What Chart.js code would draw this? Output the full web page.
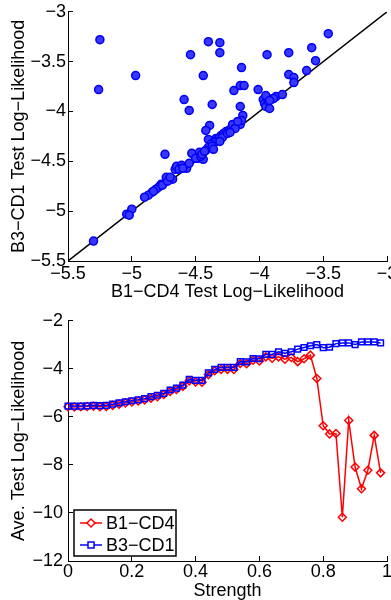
<!DOCTYPE html>
<html>
<head>
<meta charset="utf-8">
<script src="https://cdn.jsdelivr.net/npm/chart.js@4.4.0/dist/chart.umd.min.js"></script>
<style>
    body { margin: 0; width: 391px; height: 600px; overflow: hidden; background: #fff; position: relative; }
    canvas { position: absolute; left: 0; }
    #scatter-chart { top: -6px; }
    #strength-chart { top: 300px; }
</style>
</head>
<body>
<canvas id="scatter-chart" width="420" height="311"></canvas>
<canvas id="strength-chart" width="420" height="302"></canvas>
<script>
// Haut : log-vraisemblance B1-CD4 (x) contre B3-CD1 (y)
const scatterX = [
    -5.25, -5.26, -4.97, -4.54, -4.40, -4.31, -4.31, -4.44, -4.14, -3.94,
    -3.77, -3.59, -3.46, -3.56, -3.63, -3.77, -3.73, -3.73, -4.01, -4.20,
    -4.15, -4.12, -4.59, -4.55, -4.37, -4.15, -4.13, -3.87, -3.82, -3.97,
    -3.96, -3.95, -3.94, -3.93, -3.92, -3.91, -3.95, -3.89, -3.92, -4.39,
    -4.42, -4.40, -4.34, -4.30, -4.28, -4.26, -4.24, -4.22, -4.20, -4.18,
    -4.16, -4.15, -4.14, -4.32, -4.34, -4.36, -4.38, -4.40, -4.42, -4.29,
    -4.25, -4.21, -4.19, -4.17, -4.23, -4.74, -4.53, -4.47, -4.48, -4.44,
    -4.37, -4.36, -4.31, -4.66, -4.65, -4.61, -4.57, -4.68, -4.73, -4.77,
    -4.79, -4.81, -4.84, -4.87, -4.90, -5.00, -5.04, -5.02, -5.30, -4.83,
    -4.76, -4.72, -4.70, -4.63, -4.60, -4.55, -4.50, -4.46, -4.45, -4.43
];
const scatterY = [
    -3.28, -3.78, -3.64, -3.43, -3.30, -3.31, -3.41, -3.64, -3.56, -3.43,
    -3.41, -3.36, -3.22, -3.49, -3.59, -3.63, -3.66, -3.71, -3.78, -3.79,
    -3.74, -3.74, -3.88, -3.99, -3.93, -3.95, -4.04, -3.85, -3.83, -3.88,
    -3.92, -3.95, -3.86, -3.90, -3.97, -3.88, -3.84, -3.87, -3.89, -4.14,
    -4.19, -4.28, -4.27, -4.24, -4.22, -4.20, -4.19, -4.17, -4.15, -4.13,
    -4.12, -4.13, -4.09, -4.27, -4.30, -4.31, -4.33, -4.36, -4.39, -4.26,
    -4.22, -4.13, -4.17, -4.10, -4.21, -4.43, -4.42, -4.41, -4.47, -4.48,
    -4.35, -4.38, -4.30, -4.58, -4.55, -4.54, -4.57, -4.68, -4.66, -4.73,
    -4.76, -4.78, -4.81, -4.84, -4.86, -4.98, -5.03, -5.04, -5.30, -4.80,
    -4.74, -4.70, -4.66, -4.58, -4.57, -4.52, -4.47, -4.45, -4.43, -4.40
];
const diagonalX = [-5.5, -3];
const diagonalY = [-5.5, -3];
const scatterXTicks = [-5.5, -5, -4.5, -4, -3.5, -3];
const scatterYTicks = [-5.5, -5, -4.5, -4, -3.5, -3];

// Bas : moyenne de la log-vraisemblance selon la force
const strength = [
    0, 0.02, 0.04, 0.06, 0.08, 0.10, 0.12, 0.14, 0.16, 0.18,
    0.20, 0.22, 0.24, 0.26, 0.28, 0.30, 0.32, 0.34, 0.36, 0.38,
    0.40, 0.42, 0.44, 0.46, 0.48, 0.50, 0.52, 0.54, 0.56, 0.58,
    0.60, 0.62, 0.64, 0.66, 0.68, 0.70, 0.72, 0.74, 0.76, 0.78,
    0.80, 0.82, 0.84, 0.86, 0.88, 0.90, 0.92, 0.94, 0.96, 0.98
];
const b1cd4 = [
    -5.58, -5.59, -5.58, -5.57, -5.56, -5.58, -5.57, -5.52, -5.47, -5.42,
    -5.38, -5.34, -5.29, -5.22, -5.16, -5.07, -4.94, -4.86, -4.73, -4.50,
    -4.55, -4.56, -4.24, -4.08, -4.02, -4.02, -4.03, -3.78, -3.79, -3.64,
    -3.67, -3.50, -3.56, -3.50, -3.60, -3.53, -3.70, -3.58, -3.43, -4.40,
    -6.37, -6.71, -6.69, -10.18, -6.15, -8.09, -8.99, -8.22, -6.77, -8.33
];
const b3cd1 = [
    -5.55, -5.55, -5.55, -5.54, -5.52, -5.53, -5.52, -5.47, -5.42, -5.37,
    -5.33, -5.29, -5.24, -5.16, -5.10, -5.02, -4.88, -4.80, -4.68, -4.44,
    -4.48, -4.48, -4.17, -4.02, -3.94, -3.94, -3.94, -3.70, -3.71, -3.57,
    -3.58, -3.40, -3.40, -3.29, -3.35, -3.29, -3.18, -3.11, -3.04, -2.99,
    -3.12, -3.10, -2.95, -2.92, -2.92, -2.99, -2.88, -2.88, -2.88, -2.92
];
const strengthTicks = [0, 0.2, 0.4, 0.6, 0.8, 1];
const likelihoodTicks = [-12, -10, -8, -6, -4, -2];

const FONT = "'Liberation Sans', Arial, Helvetica, sans-serif";
Chart.defaults.font.family = FONT;
Chart.defaults.font.size = 18;
Chart.defaults.color = "#000";

function formatTick(value) {
    return String(value).replace("-", "\u2212");
}

// Axe façon MATLAB : trait noir, graduations vers l'intérieur
function makeAxis(min, max, tickValues, title, size, tickPadding, titlePadding, horizontal) {
    return {
        type: "linear",
        min: min,
        max: max,
        afterBuildTicks: (axis) => {
            axis.ticks = tickValues.map((v) => ({ value: v }));
        },
        afterFit: (axis) => {
            if (horizontal) {
                axis.height = size;
            } else {
                axis.width = size;
            }
        },
        ticks: {
            autoSkip: false,
            maxRotation: 0,
            padding: tickPadding,
            callback: formatTick,
        },
        grid: {
            drawOnChartArea: false,
            drawTicks: true,
            tickLength: -5,
            color: "#000",
            lineWidth: 1,
        },
        border: { display: true, color: "#000", width: 1 },
        title: {
            display: true,
            text: title,
            padding: horizontal ? { top: 0, bottom: titlePadding } : { top: titlePadding, bottom: 0 },
        },
    };
}

const legendBox = {
    id: "legendBox",
    afterDraw(chart) {
        const ctx = chart.ctx;
        const area = chart.chartArea;
        const x0 = area.left + 6;
        const y0 = area.bottom - 51;
        ctx.save();
        ctx.fillStyle = "#fff";
        ctx.fillRect(x0, y0, 102, 46);
        ctx.strokeStyle = "#000";
        ctx.lineWidth = 1.5;
        ctx.strokeRect(x0, y0, 102, 46);

        const rows = [
            { color: "#ff0000", style: "diamond", dy: 13 },
            { color: "#0000ff", style: "square", dy: 35 },
        ];
        rows.forEach((row, i) => {
            const y = y0 + row.dy;
            ctx.strokeStyle = row.color;
            ctx.lineWidth = 1.5;
            ctx.beginPath();
            ctx.moveTo(x0 + 6, y);
            ctx.lineTo(x0 + 28, y);
            ctx.stroke();
            ctx.beginPath();
            if (row.style === "diamond") {
                ctx.moveTo(x0 + 17, y - 4);
                ctx.lineTo(x0 + 21, y);
                ctx.lineTo(x0 + 17, y + 4);
                ctx.lineTo(x0 + 13, y);
                ctx.closePath();
            } else {
                ctx.rect(x0 + 14, y - 3, 6, 6);
            }
            ctx.fillStyle = "#fff";
            ctx.fill();
            ctx.stroke();
            ctx.fillStyle = "#000";
            ctx.font = "18px " + FONT;
            ctx.textBaseline = "middle";
            ctx.fillText(chart.data.datasets[i].label, x0 + 32, y + 1);
        });
        ctx.restore();
    },
};

new Chart(document.getElementById("scatter-chart"), {
    type: "scatter",
    data: {
        datasets: [
            {
                label: "points",
                data: scatterX.map((x, i) => ({ x: x, y: scatterY[i] })),
                pointStyle: "circle",
                pointRadius: 4,
                backgroundColor: "rgb(55, 55, 255)",
                borderColor: "rgb(0, 0, 245)",
                borderWidth: 1.5,
                clip: false,
            },
            {
                label: "y = x",
                data: diagonalX.map((x, i) => ({ x: x, y: diagonalY[i] })),
                showLine: true,
                pointRadius: 0,
                borderColor: "#000",
                borderWidth: 1.5,
            },
        ],
    },
    options: {
        responsive: false,
        animation: false,
        layout: { padding: { top: 15, right: 33, left: 0, bottom: 0 } },
        plugins: { legend: { display: false }, tooltip: { enabled: false } },
        scales: {
            x: makeAxis(-5.5, -3, scatterXTicks, "B1\u2212CD4 Test Log\u2212Likelihood", 44, 7, 2, true),
            y: makeAxis(-5.5, -3, scatterYTicks, "B3\u2212CD1 Test Log\u2212Likelihood", 68, 7, 8, false),
        },
    },
});

new Chart(document.getElementById("strength-chart"), {
    type: "scatter",
    data: {
        datasets: [
            {
                label: "B1\u2212CD4",
                data: strength.map((s, i) => ({ x: s, y: b1cd4[i] })),
                showLine: true,
                borderColor: "#ff0000",
                borderWidth: 1.5,
                pointStyle: "rectRot",
                pointRadius: 4,
                pointBorderColor: "#ff0000",
                pointBackgroundColor: "rgba(255, 255, 255, 0)",
                pointBorderWidth: 1.5,
                order: 1,
                clip: false,
            },
            {
                label: "B3\u2212CD1",
                data: strength.map((s, i) => ({ x: s, y: b3cd1[i] })),
                showLine: true,
                borderColor: "#0000ff",
                borderWidth: 1.5,
                pointStyle: "rect",
                pointRadius: 4,
                pointBorderColor: "#0000ff",
                pointBackgroundColor: "rgba(255, 255, 255, 0)",
                pointBorderWidth: 1.5,
                order: 0,
                clip: false,
            },
        ],
    },
    options: {
        responsive: false,
        animation: false,
        layout: { padding: { top: 15, right: 33, left: 0, bottom: 0 } },
        plugins: { legend: { display: false }, tooltip: { enabled: false } },
        scales: {
            x: makeAxis(0, 1, strengthTicks, "Strength", 41, 5, 0, true),
            y: makeAxis(-12, -2, likelihoodTicks, "Ave. Test Log\u2212Likelihood", 68, 10, 8, false),
        },
    },
    plugins: [legendBox],
});
</script>
</body>
</html>
